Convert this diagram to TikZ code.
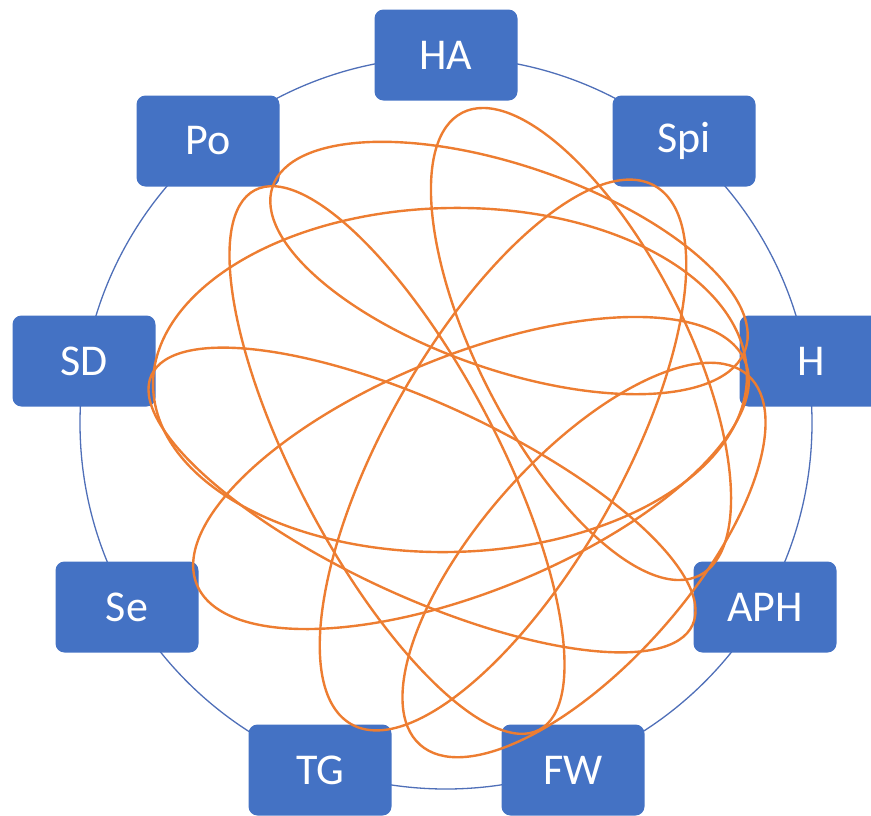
\documentclass[tikz,border=0pt]{standalone}
\usepackage{fontspec}
\setmainfont{Carlito}
\definecolor{boxblue}{HTML}{4472C4}
\definecolor{ringblue}{HTML}{4F6FB8}
\definecolor{loopor}{HTML}{ED7D31}
\begin{document}
\begin{tikzpicture}[x=1pt,y=-1pt,
  box/.style={fill=boxblue, rounded corners=9pt, minimum width=143pt, minimum height=91pt,
              text=white, font=\fontsize{44}{50}\selectfont, inner sep=0pt},
  ring/.style={draw=ringblue, line width=1.3pt},
  tangle/.style={draw=loopor, line width=2.4pt}]
\useasboundingbox (0,0) rectangle (871,815);
\draw[ring] (446,423) circle [radius=366pt];
% nodes
\node[box] (HA)  at (446,55)  {HA};
\node[box] (Spi) at (684,141) {Spi};
\node[box] (H)   at (811,361) {H};
\node[box] (APH) at (765,607) {APH};
\node[box] (FW)  at (573,770) {FW};
\node[box] (TG)  at (320,770) {TG};
\node[box] (Se)  at (127,607) {Se};
\node[box] (SD)  at (84,361)  {SD};
\node[box] (Po)  at (208,141) {Po};
% loops
\draw[tangle, rotate around={1.2:(450,380)}]  (450,380) ellipse [x radius=297pt, y radius=172pt];   % SD-H
\draw[tangle, rotate around={-24.8:(422,500)}] (422,500) ellipse [x radius=298pt, y radius=96pt];   % SD-APH
\draw[tangle, rotate around={-19:(509,268)}]   (509,268) ellipse [x radius=250pt, y radius=102pt];  % Po-H
\draw[tangle, rotate around={-62.2:(397,460)}] (397,460) ellipse [x radius=305pt, y radius=100pt];  % Po-FW
\draw[tangle, rotate around={-62.8:(581,344)}] (581,344) ellipse [x radius=260pt, y radius=103pt];  % HA-APH
\draw[tangle, rotate around={22.1:(471,473)}]  (471,473) ellipse [x radius=296pt, y radius=118pt];  % Se-H
\draw[tangle, rotate around={48.4:(584,560)}]  (584,560) ellipse [x radius=247pt, y radius=104pt];  % TG-H
\draw[tangle, rotate around={60.6:(503,455)}]  (503,455) ellipse [x radius=309pt, y radius=118pt];  % Spi-TG
\end{tikzpicture}
\end{document}
